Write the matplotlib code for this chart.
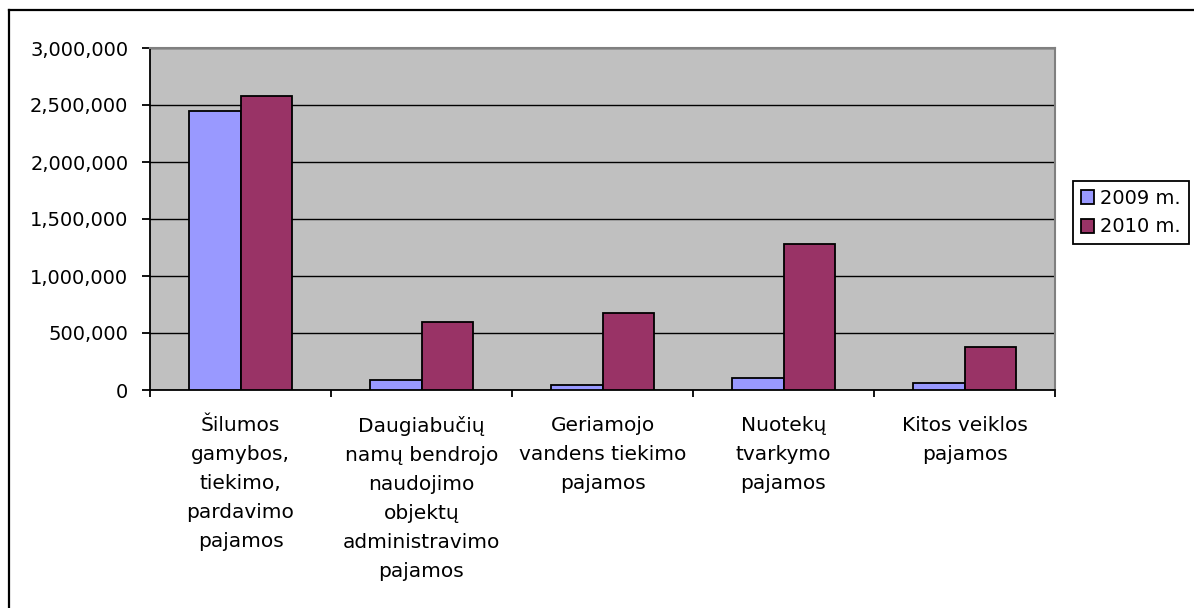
import matplotlib
matplotlib.use("Agg")
import matplotlib.pyplot as plt
import numpy as np
from matplotlib.lines import Line2D
from matplotlib.ticker import FuncFormatter, FixedLocator

categories = [
    "Šilumos\ngamybos,\ntiekimo,\npardavimo\npajamos",
    "Daugiabučių\nnamų bendrojo\nnaudojimo\nobjektų\nadministravimo\npajamos",
    "Geriamojo\nvandens tiekimo\npajamos",
    "Nuotekų\ntvarkymo\npajamos",
    "Kitos veiklos\npajamos",
]
series_names = ["2009 m.", "2010 m."]
values_2009 = [2443000, 91000, 44000, 108000, 61000]
values_2010 = [2581000, 595000, 672000, 1281000, 374000]
yticks = [0, 500000, 1000000, 1500000, 2000000, 2500000, 3000000]

colors = ["#9999FF", "#993366"]
FS = 14
FS_CAT = 14.5

plt.rcParams['font.family'] = ['DejaVu Sans']

fig = plt.figure(figsize=(11.94, 6.08), dpi=100)
ax = fig.add_axes([150/1194, 1-390/608, (1055-150)/1194, (390-48)/608])
ax.set_facecolor("#C0C0C0")

x = np.arange(len(categories))
w = 1/3.5
ax.bar(x - w/2, values_2009, w, color=colors[0], edgecolor="black", linewidth=1.3, label=series_names[0], zorder=3)
ax.bar(x + w/2, values_2010, w, color=colors[1], edgecolor="black", linewidth=1.3, label=series_names[1], zorder=3)

ax.set_xlim(-0.5, len(categories) - 0.5)
ax.set_ylim(0, 3000000)
ax.set_yticks(yticks)
ax.yaxis.set_major_formatter(FuncFormatter(lambda v, p: f"{int(v):,}"))
ax.yaxis.grid(True, color="black", linewidth=1.0, zorder=1)
ax.set_axisbelow(True)

# x ticks at category boundaries, labels at centers
ax.xaxis.set_major_locator(FixedLocator(np.arange(-0.5, len(categories), 1.0)))
ax.xaxis.set_major_formatter(FuncFormatter(lambda v, p: ""))
ax.set_xticks(x, minor=True)
ax.set_xticklabels(categories, minor=True, fontsize=FS_CAT, linespacing=1.66, va="top", ha="center")
ax.tick_params(axis="x", which="minor", length=0, pad=19)
ax.tick_params(axis="x", which="major", length=5, width=1.3, direction="out", color="black")
ax.tick_params(axis="y", length=5.5, width=1.3, direction="out", color="black", labelsize=FS, pad=10)

for s in ["top", "right"]:
    ax.spines[s].set_color("#808080")
    ax.spines[s].set_linewidth(1.5)
for s in ["left", "bottom"]:
    ax.spines[s].set_color("black")
    ax.spines[s].set_linewidth(1.3)

leg = fig.legend(loc="upper left", bbox_to_anchor=(1073/1194, 1-181/608), fontsize=FS,
                 frameon=True, fancybox=False, edgecolor="black", framealpha=1,
                 handlelength=0.7, handleheight=0.7, handletextpad=0.3,
                 borderpad=0.4, labelspacing=0.5, borderaxespad=0)
leg.get_frame().set_linewidth(1.3)

# outer chart border (top and left visible)
fig.add_artist(Line2D([9/1194, 1.0], [1-10/608, 1-10/608], transform=fig.transFigure, color="black", linewidth=1.6))
fig.add_artist(Line2D([9/1194, 9/1194], [0.0, 1-10/608], transform=fig.transFigure, color="black", linewidth=1.6))

fig.savefig("out.png", dpi=100, facecolor="white")
